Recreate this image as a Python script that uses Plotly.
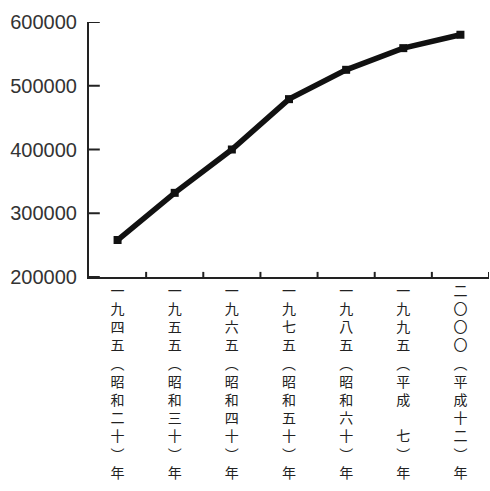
import plotly.graph_objects as go

# Population figures by census year
years = ["一九四五", "一九五五", "一九六五", "一九七五", "一九八五", "一九九五", "二〇〇〇"]
eras = ["昭和二十", "昭和三十", "昭和四十", "昭和五十", "昭和六十", "平成\u3000七", "平成十二"]
population = [258000, 332000, 400000, 479000, 525000, 559000, 580000]
y_ticks = [200000, 300000, 400000, 500000, 600000]


def vertical(text):
    # stack the characters top to bottom
    return "<br>".join(list(text))


tick_text = [vertical(y + "︵" + e + "︶年") for y, e in zip(years, eras)]
x_pos = list(range(len(years)))

fig = go.Figure(
    go.Scatter(
        x=x_pos,
        y=population,
        mode="lines+markers",
        line=dict(color="#111111", width=5.5),
        marker=dict(symbol="square", size=8, color="#111111"),
        cliponaxis=False,
    )
)

fig.update_layout(
    width=490,
    height=491,
    margin=dict(l=89, r=1, t=22, b=214),
    paper_bgcolor="white",
    plot_bgcolor="white",
    showlegend=False,
)

fig.update_xaxes(
    type="linear",
    range=[-0.5, len(years) - 0.5],
    tickvals=x_pos,
    ticktext=tick_text,
    ticks="",
    showgrid=False,
    zeroline=False,
    showline=True,
    linecolor="#222222",
    linewidth=2,
    tickfont=dict(family="Noto Sans CJK JP", size=14, color="#222222"),
    fixedrange=True,
)

# small upward ticks between the year columns
for b in [i + 0.5 for i in x_pos]:
    fig.add_shape(
        type="line", xref="x", yref="paper", x0=b, x1=b, y0=0, y1=0.02,
        line=dict(color="#222222", width=2),
    )

# short inward ticks at each population gridline
for v in y_ticks:
    fig.add_shape(
        type="line", xref="paper", yref="y", x0=0, x1=0.027, y0=v, y1=v,
        line=dict(color="#222222", width=2),
    )

fig.update_yaxes(
    range=[200000, 600000],
    tickvals=y_ticks,
    ticktext=[str(v) for v in y_ticks],
    ticks="",
    ticklabelstandoff=6,
    showgrid=False,
    zeroline=False,
    showline=True,
    linecolor="#222222",
    linewidth=2,
    tickfont=dict(family="Liberation Sans", size=20, color="#333333"),
    fixedrange=True,
)

fig.write_html("out.html")
